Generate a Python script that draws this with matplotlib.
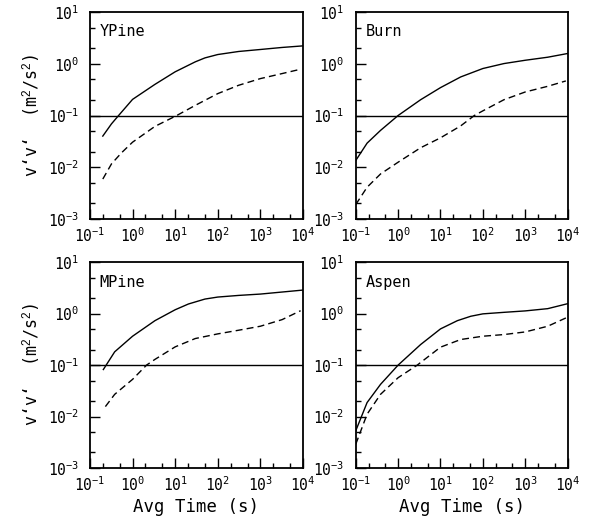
import numpy as np
import matplotlib
matplotlib.use("Agg")
import matplotlib.pyplot as plt
from matplotlib.ticker import LogLocator, NullFormatter

plt.rcParams['font.family'] = ['DejaVu Sans Mono']
plt.rcParams['mathtext.fontset'] = 'custom'
plt.rcParams['mathtext.rm'] = 'Liberation Sans'
plt.rcParams['mathtext.default'] = 'rm'

# averaging times (s) and variances, one pair per curve
ypine_t_solid = [0.2, 0.32, 0.47, 1, 3.35, 10, 29.6, 50, 100, 309, 1000, 3240, 10000]
ypine_solid = [0.040, 0.069, 0.1, 0.205, 0.40, 0.70, 1.09, 1.30, 1.51, 1.73, 1.89, 2.07, 2.22]
ypine_t_dash = [0.2, 0.32, 0.55, 1, 3.35, 10.9, 29.6, 100, 309, 1000, 3240, 8800]
ypine_dash = [0.0059, 0.0116, 0.019, 0.0305, 0.0616, 0.1, 0.157, 0.265, 0.384, 0.517, 0.647, 0.785]

burn_t_solid = [0.1, 0.185, 0.384, 1, 3.4, 10, 30, 100, 315, 1000, 3400, 10000]
burn_solid = [0.0135, 0.0292, 0.0515, 0.1, 0.202, 0.346, 0.557, 0.81, 1.01, 1.17, 1.34, 1.58]
burn_t_dash = [0.1, 0.185, 0.384, 1, 3.4, 10, 30, 63, 100, 315, 1000, 3400, 9100]
burn_dash = [0.0019, 0.0041, 0.0074, 0.0125, 0.0238, 0.037, 0.063, 0.1, 0.123, 0.202, 0.285, 0.367, 0.466]

mpine_t_solid = [0.206, 0.38, 1, 3.35, 10, 20.5, 50, 100, 309, 1000, 3240, 10000]
mpine_solid = [0.082, 0.181, 0.364, 0.73, 1.19, 1.54, 1.92, 2.10, 2.26, 2.40, 2.63, 2.87]
mpine_t_dash = [0.23, 0.38, 1, 2.13, 3.35, 10, 29.6, 100, 309, 1000, 3240, 8800]
mpine_dash = [0.0156, 0.027, 0.0528, 0.1, 0.129, 0.226, 0.328, 0.404, 0.476, 0.569, 0.765, 1.14]

aspen_t_solid = [0.1, 0.185, 0.384, 1, 3.4, 10, 25, 52, 100, 315, 1000, 3400, 10000]
aspen_solid = [0.0053, 0.0187, 0.0422, 0.1, 0.251, 0.505, 0.73, 0.89, 0.99, 1.06, 1.13, 1.25, 1.56]
aspen_t_dash = [0.1, 0.185, 0.384, 1, 2.83, 10, 30, 100, 315, 1000, 3400, 9100]
aspen_dash = [0.0029, 0.0111, 0.027, 0.0569, 0.1, 0.223, 0.314, 0.364, 0.392, 0.441, 0.569, 0.824]

sites = ['YPine', 'Burn', 'MPine', 'Aspen']
solid_t = [ypine_t_solid, burn_t_solid, mpine_t_solid, aspen_t_solid]
solid_v = [ypine_solid, burn_solid, mpine_solid, aspen_solid]
dash_t = [ypine_t_dash, burn_t_dash, mpine_t_dash, aspen_t_dash]
dash_v = [ypine_dash, burn_dash, mpine_dash, aspen_dash]
threshold = 0.1

fig = plt.figure(figsize=(5.9, 5.25), dpi=100)
boxes = [
    [0.1525, 0.583, 0.361, 0.394],
    [0.603, 0.583, 0.359, 0.394],
    [0.1525, 0.1086, 0.361, 0.392],
    [0.603, 0.1086, 0.359, 0.392],
]

for i, box in enumerate(boxes):
    ax = fig.add_axes(box)
    ax.set_xscale('log')
    ax.set_yscale('log')
    ax.plot(solid_t[i], solid_v[i], color='black', lw=1.0)
    ax.plot(dash_t[i], dash_v[i], color='black', lw=1.0, dashes=(5, 3))
    ax.axhline(threshold, color='black', lw=1.0)
    ax.set_xlim(0.1, 1e4)
    ax.set_ylim(1e-3, 10)
    ax.text(0.045, 0.94, sites[i], transform=ax.transAxes, fontsize=11,
            va='top', ha='left')

    ax.xaxis.set_major_locator(LogLocator(base=10, numticks=12))
    ax.yaxis.set_major_locator(LogLocator(base=10, numticks=12))
    ax.xaxis.set_minor_locator(LogLocator(base=10, subs=(2.0, 5.0), numticks=12))
    ax.yaxis.set_minor_locator(LogLocator(base=10, subs=(2.0, 5.0), numticks=12))
    ax.xaxis.set_minor_formatter(NullFormatter())
    ax.yaxis.set_minor_formatter(NullFormatter())
    ax.tick_params(which='both', direction='in', top=False, right=False,
                   labelsize=10.5, width=1.0, color='black')
    ax.tick_params(which='major', length=7)
    ax.tick_params(which='minor', length=3.3)
    ax.tick_params(axis='x', which='major', pad=5)
    ax.tick_params(axis='y', which='major', pad=8)
    for s in ax.spines.values():
        s.set_linewidth(1.3)

    if i % 2 == 0:
        ax.set_ylabel('v\u2018v\u2018  (m$^2$/s$^2$)', fontsize=12, labelpad=4)
    if i >= 2:
        ax.set_xlabel('Avg Time (s)', fontsize=12.5, labelpad=3)

plt.savefig('out.png', dpi=100)
